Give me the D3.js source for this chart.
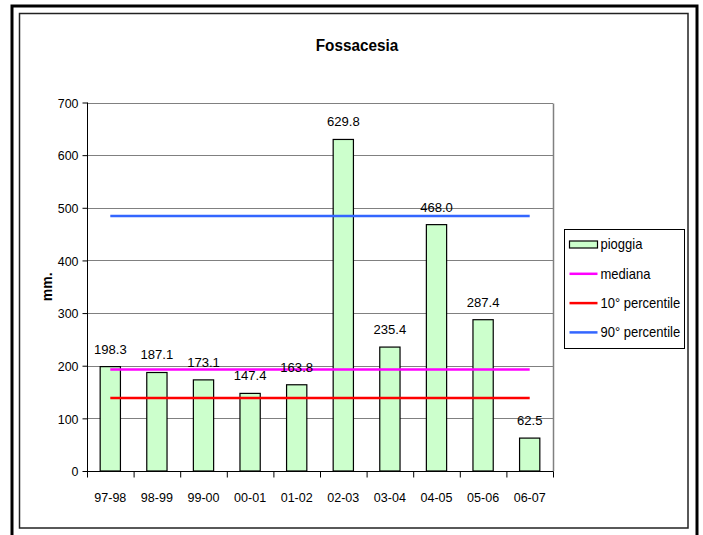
<!DOCTYPE html>
<html>
<head>
<meta charset="utf-8">
<script src="https://cdn.jsdelivr.net/npm/d3@7"></script>
<style>
  html, body { margin: 0; padding: 0; background: #fff; }
  svg { display: block; font-family: "Liberation Sans", Arial, sans-serif; }
</style>
</head>
<body>
<svg id="chart" width="703" height="535"></svg>
<script>
// Rainfall per hydrological year at Fossacesia (mm)
const categories = ["97-98", "98-99", "99-00", "00-01", "01-02", "02-03", "03-04", "04-05", "05-06", "06-07"];
const pioggia = [198.3, 187.1, 173.1, 147.4, 163.8, 629.8, 235.4, 468.0, 287.4, 62.5];
// Reference levels drawn across all years
const mediana = [192.7];
const percentile10 = [138.9];
const percentile90 = [484.2];
const yTicks = [0, 100, 200, 300, 400, 500, 600, 700];

const svg = d3.select("#chart");

// Double frame around the chart
svg.append("rect").attr("x", 12).attr("y", 6).attr("width", 685).attr("height", 540)
  .attr("fill", "none").attr("stroke", "#000").attr("stroke-width", 3);
svg.append("rect").attr("x", 19.5).attr("y", 13.5).attr("width", 668.5).attr("height", 514.5)
  .attr("fill", "none").attr("stroke", "#222").attr("stroke-width", 1.5);

const plot = { left: 87, right: 553, top: 102.5, bottom: 471 };

const x = d3.scaleBand().domain(categories).range([plot.left, plot.right]).paddingInner(0).paddingOuter(0);
const y = d3.scaleLinear().domain([0, 700]).range([plot.bottom, plot.top]);
const barW = x.bandwidth() / 2.3;

// Scale text horizontally to get the narrow Arial look
function narrow(sel, sx) {
  sel.each(function () {
    const t = d3.select(this);
    const tx = +t.attr("x") || 0;
    t.attr("transform", `translate(${tx},0) scale(${sx},1) translate(${-tx},0)`);
  });
}

// Title
svg.append("text").attr("x", 357).attr("y", 51).attr("text-anchor", "middle")
  .attr("font-size", 17).attr("font-weight", "bold").text("Fossacesia").call(narrow, 0.9);

// Horizontal gridlines
svg.append("g").selectAll("line").data(yTicks.filter(d => d > 0)).join("line")
  .attr("x1", plot.left).attr("x2", plot.right)
  .attr("y1", d => Math.round(y(d)) + 0.5).attr("y2", d => Math.round(y(d)) + 0.5)
  .attr("stroke", "#808080").attr("stroke-width", 1);
// Right border of the plot area
svg.append("line").attr("x1", plot.right + 0.5).attr("x2", plot.right + 0.5)
  .attr("y1", Math.round(y(700)) + 0.5).attr("y2", plot.bottom)
  .attr("stroke", "#808080").attr("stroke-width", 1.5);

// Y axis
const yAxis = d3.axisLeft(y).tickValues(yTicks).tickSize(5).tickPadding(4).tickFormat(d3.format("d"));
const gy = svg.append("g").attr("transform", `translate(${plot.left + 0.5},0)`).call(yAxis);
gy.select(".domain").attr("stroke", "#000").attr("d", `M0,${y(700)}V${plot.bottom}`);
gy.selectAll(".tick line").attr("stroke", "#000");
gy.selectAll(".tick text").attr("font-size", 13.5).attr("font-family", "Liberation Sans, Arial, sans-serif")
  .attr("fill", "#000").attr("dy", "0.35em");
gy.selectAll(".tick text").each(function () {
  const t = d3.select(this);
  const tx = +t.attr("x");
  t.attr("transform", `translate(${tx},0) scale(0.92,1) translate(${-tx},0)`);
});

// Y axis title
svg.append("text").attr("transform", `translate(52,${(plot.top + plot.bottom) / 2}) rotate(-90)`)
  .attr("text-anchor", "middle").attr("font-size", 14).attr("font-weight", "bold").text("mm.");

// Bars
svg.append("g").selectAll("rect").data(pioggia).join("rect")
  .attr("x", (d, i) => x(categories[i]) + (x.bandwidth() - barW) / 2)
  .attr("y", d => y(d))
  .attr("width", barW)
  .attr("height", d => plot.bottom - y(d))
  .attr("fill", "#CCFFCC").attr("stroke", "#000").attr("stroke-width", 1.2);

// X axis with ticks at category boundaries
const gx = svg.append("g").attr("transform", `translate(0,${plot.bottom + 0.5})`);
gx.append("line").attr("x1", plot.left).attr("x2", plot.right + 0.5).attr("stroke", "#000").attr("stroke-width", 1.2);
const bounds = categories.map(c => x(c)).concat([plot.right]);
gx.selectAll("line.tk").data(bounds).join("line").attr("class", "tk")
  .attr("x1", d => d + 0.5).attr("x2", d => d + 0.5).attr("y1", 0).attr("y2", 6)
  .attr("stroke", "#000");
gx.selectAll("text").data(categories).join("text")
  .attr("x", d => x(d) + x.bandwidth() / 2).attr("y", 31)
  .attr("text-anchor", "middle").attr("font-size", 13.5).text(d => d).call(narrow, 0.93);

// Reference lines from first to last category centre
const cx0 = x(categories[0]) + x.bandwidth() / 2;
const cx1 = x(categories[categories.length - 1]) + x.bandwidth() / 2;
const refs = [
  { v: mediana[0], color: "#FF00FF" },
  { v: percentile10[0], color: "#FF0000" },
  { v: percentile90[0], color: "#3366FF" }
];
svg.append("g").selectAll("line").data(refs).join("line")
  .attr("x1", cx0).attr("x2", cx1).attr("y1", d => y(d.v)).attr("y2", d => y(d.v))
  .attr("stroke", d => d.color).attr("stroke-width", 2.5);

// Value labels above bars
svg.append("g").selectAll("text").data(pioggia).join("text")
  .attr("x", (d, i) => x(categories[i]) + x.bandwidth() / 2)
  .attr("y", d => y(d) - 13)
  .attr("text-anchor", "middle").attr("font-size", 13.5).text(d => d.toFixed(1)).call(narrow, 0.97);

// Legend
const lg = svg.append("g").attr("transform", "translate(564.5,229.5)");
lg.append("rect").attr("width", 120).attr("height", 119).attr("fill", "#fff").attr("stroke", "#000").attr("stroke-width", 1);
const items = [
  { name: "pioggia", type: "bar" },
  { name: "mediana", color: "#FF00FF" },
  { name: "10° percentile", color: "#FF0000" },
  { name: "90° percentile", color: "#3366FF" }
];
items.forEach((it, i) => {
  const cy = 15 + i * 29.3;
  if (it.type === "bar") {
    lg.append("rect").attr("x", 5).attr("y", cy - 3.5).attr("width", 28).attr("height", 7)
      .attr("fill", "#CCFFCC").attr("stroke", "#000").attr("stroke-width", 1.2);
  } else {
    lg.append("line").attr("x1", 5).attr("x2", 33).attr("y1", cy).attr("y2", cy)
      .attr("stroke", it.color).attr("stroke-width", 2.5);
  }
  lg.append("text").attr("x", 36).attr("y", cy + 5).attr("font-size", 14).text(it.name).call(narrow, 0.93);
});
</script>
</body>
</html>
